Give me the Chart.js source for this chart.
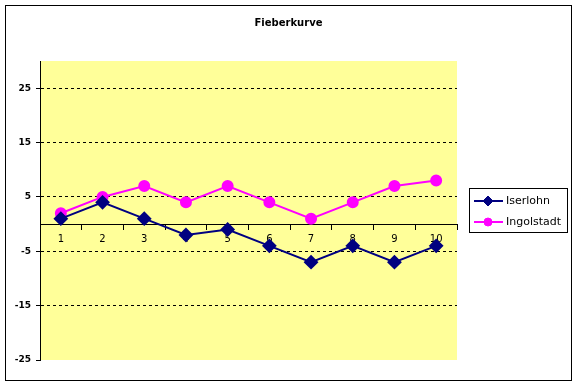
<!DOCTYPE html>
<html>
<head>
<meta charset="utf-8">
<script src="https://cdn.jsdelivr.net/npm/chart.js@4"></script>
<style>
  html, body { margin: 0; padding: 0; background: #fff; }
</style>
</head>
<body>
<canvas id="fieberChart" width="577" height="385"></canvas>
<script>
// Daten der Fieberkurve
const categories = ["1", "2", "3", "4", "5", "6", "7", "8", "9", "10"];
const iserlohn = [1, 4, 1, -2, -1, -4, -7, -4, -7, -4];
const ingolstadt = [2, 5, 7, 4, 7, 4, 1, 4, 7, 8];
const yTicks = [-25, -15, -5, 5, 15, 25];
const yMin = -25;
const yMax = 30;
const chartTitle = "Fieberkurve";

// Hintergrund, gelbe Zeichenfläche, Rahmen und Titel
const chartFrame = {
  id: "chartFrame",
  beforeDraw(chart) {
    const { ctx, chartArea: a } = chart;
    ctx.save();
    ctx.fillStyle = "#fff";
    ctx.fillRect(0, 0, chart.width, chart.height);
    ctx.fillStyle = "#ffff99";
    ctx.fillRect(a.left, a.top, a.right - a.left, a.bottom - a.top);
    ctx.strokeStyle = "#000";
    ctx.lineWidth = 1;
    ctx.strokeRect(5.5, 5.5, 566, 375);
    // Titel mittig über dem ganzen Diagramm
    ctx.fillStyle = "#000";
    ctx.font = 'bold 10px "DejaVu Sans"';
    ctx.textAlign = "center";
    ctx.textBaseline = "middle";
    ctx.fillText(chartTitle, chart.width / 2, 23);
    ctx.restore();
  },
};

// Legende im Excel-Stil (Linie mit Marker)
const legendBox = {
  id: "legendBox",
  afterDraw(chart) {
    const ctx = chart.ctx;
    ctx.save();
    ctx.strokeStyle = "#000";
    ctx.lineWidth = 1;
    ctx.strokeRect(469.5, 188.5, 98, 44);
    chart.data.datasets.forEach(function (ds, i) {
      const cy = 201 + i * 21;
      ctx.strokeStyle = ds.borderColor;
      ctx.lineWidth = 2;
      ctx.beginPath();
      ctx.moveTo(474, cy);
      ctx.lineTo(503, cy);
      ctx.stroke();
      ctx.fillStyle = ds.backgroundColor;
      ctx.lineWidth = 1;
      Chart.helpers.drawPoint(ctx, { pointStyle: ds.pointStyle, radius: ds.pointRadius - 1, borderWidth: 1 }, 488, cy);
      ctx.fillStyle = "#000";
      ctx.font = '11px "DejaVu Sans"';
      ctx.textBaseline = "middle";
      ctx.textAlign = "left";
      ctx.fillText(ds.label, 506, cy);
    });
    ctx.restore();
  },
};

const ctx = document.getElementById("fieberChart").getContext("2d");
const fieberChart = new Chart(ctx, {
  type: "line",
  data: {
    labels: categories,
    datasets: [
      {
        label: "Iserlohn",
        data: iserlohn,
        borderColor: "#000080",
        backgroundColor: "#000080",
        borderWidth: 2,
        pointStyle: "rectRot",
        pointRadius: 6,
        pointHoverRadius: 6,
        tension: 0,
      },
      {
        label: "Ingolstadt",
        data: ingolstadt,
        borderColor: "#ff00ff",
        backgroundColor: "#ff00ff",
        borderWidth: 2,
        pointStyle: "circle",
        pointRadius: 5,
        pointHoverRadius: 5,
        tension: 0,
      },
    ],
  },
  options: {
    responsive: false,
    animation: false,
    layout: { padding: { top: 61, right: 120, bottom: 25, left: 0 } },
    plugins: {
      legend: { display: false },
      tooltip: { enabled: false },
      title: { display: false },
    },
    scales: {
      x: {
        type: "category",
        offset: true,
        position: { y: 0 },
        afterFit: function (scale) {
          scale.height = 0;
        },
        grid: {
          display: true,
          offset: true,
          drawOnChartArea: false,
          drawTicks: true,
          tickLength: 5,
          tickColor: "#000",
        },
        border: { display: true, color: "#000", width: 1 },
        ticks: {
          color: "#000",
          padding: 4,
          maxRotation: 0,
          font: { family: "DejaVu Sans", size: 10 },
        },
      },
      y: {
        type: "linear",
        position: "left",
        min: yMin,
        max: yMax,
        afterBuildTicks: function (scale) {
          scale.ticks = yTicks.map(function (v) { return { value: v }; });
        },
        afterFit: function (scale) {
          scale.width = 40;
        },
        grid: {
          color: function (c) {
            return c.tick && c.tick.value === yMin ? "rgba(0,0,0,0)" : "#000";
          },
          lineWidth: 1,
          tickLength: 4,
          tickColor: "#000",
        },
        border: { display: true, color: "#000", width: 1, dash: [3, 3] },
        ticks: {
          color: "#000",
          padding: 5,
          font: { family: "DejaVu Sans", size: 9, weight: "bold" },
        },
      },
    },
  },
  plugins: [chartFrame, legendBox],
});
</script>
</body>
</html>
